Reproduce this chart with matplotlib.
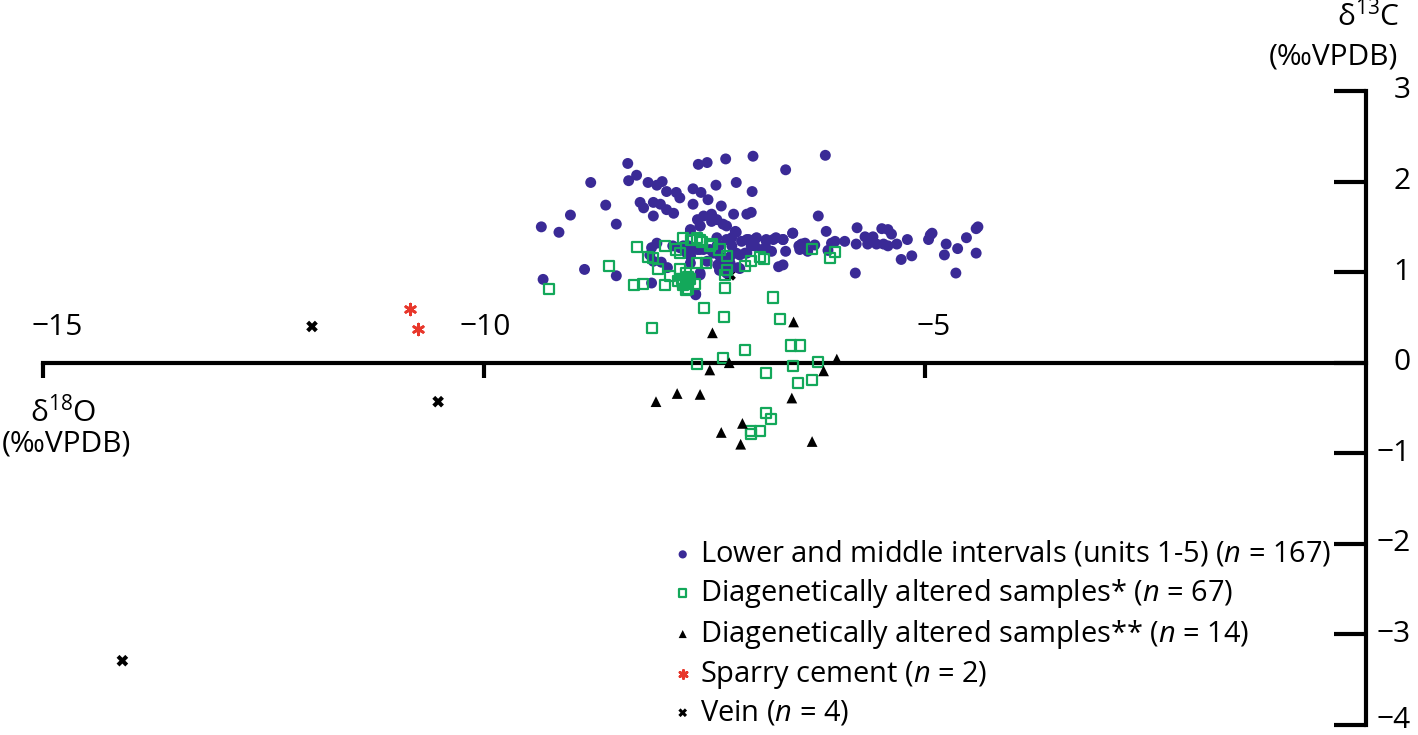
import matplotlib
matplotlib.use('Agg')
import matplotlib.pyplot as plt
import numpy as np

plt.rcParams['font.family'] = ['Open Sans', 'DejaVu Sans']
plt.rcParams['mathtext.fontset'] = 'custom'
plt.rcParams['mathtext.rm'] = 'Open Sans'
plt.rcParams['mathtext.it'] = 'Open Sans:italic'

# —— data (δ18O, δ13C) ——
lower_middle = [
    (-8.37, 2.20), (-8.27, 2.07), (-8.36, 2.01), (-8.79, 1.99), (-8.14, 1.99), (-8.04, 1.96),
    (-7.98, 2.00), (-7.93, 1.89), (-7.82, 1.88), (-7.78, 1.82), (-8.23, 1.77), (-8.19, 1.71),
    (-8.08, 1.77), (-8.00, 1.75), (-8.08, 1.62), (-7.93, 1.69), (-7.85, 1.65), (-8.62, 1.74),
    (-9.02, 1.63), (-8.50, 1.53), (-9.35, 1.50), (-9.15, 1.44), (-7.57, 2.19), (-7.47, 2.21),
    (-7.26, 2.25), (-7.63, 1.92), (-7.54, 1.88), (-7.37, 1.96), (-7.46, 1.80), (-7.63, 1.75),
    (-7.31, 1.73), (-7.17, 1.64), (-7.51, 1.62), (-7.42, 1.64), (-7.58, 1.58), (-7.66, 1.47),
    (-7.55, 1.51), (-7.36, 1.58), (-7.25, 1.51), (-7.14, 1.99), (-7.14, 1.44), (-7.36, 1.38),
    (-7.19, 1.38), (-6.95, 2.28), (-6.13, 2.29), (-6.58, 2.13), (-6.96, 1.89), (-7.02, 1.64),
    (-6.97, 1.66), (-6.21, 1.62), (-7.15, 1.45),
    (-8.10, 1.27), (-8.04, 1.32), (-8.12, 1.19), (-8.08, 1.12), (-7.99, 1.11), (-8.86, 1.03),
    (-8.50, 0.96), (-9.33, 0.92), (-8.10, 0.88), (-7.60, 0.76),
    (-7.78, 1.27), (-7.68, 1.29), (-7.58, 1.25), (-7.51, 1.25), (-7.44, 1.25), (-7.66, 1.18),
    (-7.66, 1.10), (-7.55, 0.97), (-7.33, 1.18), (-7.27, 1.10), (-7.35, 1.08), (-7.23, 1.05),
    (-7.33, 1.29), (-7.19, 1.29), (-7.14, 1.21),
    (-7.66, 1.45), (-7.55, 1.51), (-7.42, 1.56), (-7.29, 1.53), (-7.15, 1.44), (-7.02, 1.36),
    (-6.91, 1.38), (-6.80, 1.36), (-6.69, 1.38), (-6.61, 1.36), (-6.50, 1.43), (-6.42, 1.29),
    (-6.36, 1.32), (-6.58, 1.23), (-7.36, 1.29), (-7.25, 1.36), (-7.40, 1.21), (-7.29, 1.14),
    (-7.21, 1.10), (-7.12, 1.05), (-7.33, 1.02), (-7.25, 0.99), (-7.55, 0.99), (-7.60, 0.75),
    (-6.66, 1.06), (-7.04, 1.21), (-6.93, 1.29), (-6.82, 1.25), (-6.74, 1.23), (-7.74, 1.29),
    (-7.63, 1.27), (-7.55, 1.25), (-7.66, 1.18), (-7.70, 1.21),
    (-6.72, 1.36), (-6.80, 1.34), (-6.93, 1.36), (-7.00, 1.36), (-7.08, 1.34), (-6.85, 1.25),
    (-6.79, 1.25), (-6.43, 1.29), (-6.40, 1.31), (-6.42, 1.25), (-6.61, 1.08), (-6.97, 1.29),
    (-7.02, 1.21), (-7.10, 1.19), (-7.21, 1.17), (-7.21, 1.04), (-7.10, 1.04),
    (-5.77, 1.49), (-5.49, 1.48), (-5.42, 1.47), (-5.38, 1.42), (-5.68, 1.39), (-5.59, 1.39),
    (-4.92, 1.43), (-4.96, 1.36), (-5.20, 1.36), (-4.53, 1.38), (-4.42, 1.48), (-4.40, 1.50),
    (-6.02, 1.34), (-5.91, 1.34), (-5.78, 1.31), (-5.65, 1.31), (-5.47, 1.31), (-5.42, 1.29),
    (-5.32, 1.31), (-4.76, 1.31), (-4.63, 1.26), (-4.78, 1.19), (-4.42, 1.21), (-5.27, 1.14),
    (-5.15, 1.18), (-5.79, 0.99), (-4.65, 0.99), (-6.12, 1.45), (-6.50, 1.43), (-6.61, 1.36),
    (-6.06, 1.32), (-6.10, 1.24), (-5.55, 1.31), (-4.94, 1.41),
    (-6.33, 1.23), (-6.25, 1.30), (-7.47, 1.12), (-7.86, 1.29), (-7.92, 1.05),
]
altered_1 = [
    (-8.30, 0.86), (-8.20, 0.87), (-7.95, 0.86), (-7.80, 0.90), (-7.71, 0.87), (-7.69, 0.81),
    (-7.61, 0.87), (-7.27, 0.83), (-6.72, 0.72), (-7.51, 0.60), (-7.28, 0.51), (-6.64, 0.48),
    (-8.10, 0.38), (-6.52, 0.19), (-6.42, 0.19), (-7.04, 0.14), (-7.29, 0.05), (-7.59, -0.01),
    (-6.50, -0.04), (-6.21, 0.01), (-6.80, -0.11), (-6.28, -0.19), (-6.44, -0.22), (-6.80, -0.55),
    (-6.75, -0.62), (-6.97, -0.75), (-6.87, -0.75), (-6.97, -0.79),
    (-6.28, 1.26), (-6.08, 1.16), (-6.02, 1.22), (-6.97, 1.12), (-6.87, 1.17), (-6.83, 1.14),
    (-7.04, 1.07), (-7.25, 1.02),
    (-7.59, 1.38), (-7.42, 1.31), (-7.48, 1.10), (-7.71, 0.99), (-7.69, 0.90), (-7.78, 1.21),
    (-8.26, 1.28), (-8.58, 1.07), (-7.95, 1.29), (-8.14, 1.17), (-8.03, 1.04), (-7.89, 0.96),
    (-7.78, 1.03), (-7.76, 0.92), (-7.74, 0.86), (-7.69, 0.95), (-7.66, 0.92), (-7.58, 1.10),
    (-7.55, 1.36), (-7.65, 1.36), (-7.44, 1.29), (-7.33, 1.25), (-7.25, 1.18), (-7.27, 0.97),
    (-9.26, 0.81), (-8.08, 1.16),
    (-7.82, 1.25), (-7.74, 1.38), (-7.53, 1.33), (-7.74, 0.88), (-7.71, 0.80),
]
altered_2 = [
    (-7.41, 0.33), (-6.49, 0.45), (-7.22, 0.00), (-7.44, -0.08), (-6.00, 0.04), (-6.15, -0.09),
    (-7.81, -0.34), (-7.55, -0.35), (-8.05, -0.43), (-6.51, -0.39), (-7.07, -0.67), (-7.31, -0.77),
    (-7.09, -0.90), (-6.28, -0.87),
]
sparry = [(-10.84, 0.59), (-10.75, 0.37)]
vein = [(-11.95, 0.40), (-10.52, -0.43), (-14.10, -3.29), (-7.21, 0.97)]

labels = [
    'Lower and middle intervals (units 1-5) ($n$ = 167)',
    'Diagenetically altered samples* ($n$ = 67)',
    'Diagenetically altered samples** ($n$ = 14)',
    'Sparry cement ($n$ = 2)',
    'Vein ($n$ = 4)',
]
x_ticks = [-15, -10, -5]
y_ticks = [3, 2, 1, 0, -1, -2, -3, -4]

W, H = 1418, 735
fig = plt.figure(figsize=(W / 100, H / 100), dpi=100)
ax = fig.add_axes([43 / W, 10 / H, (1366 - 43) / W, (725 - 91) / H])

blue = '#3a2a96'
green = '#13a85a'
red = '#e8372b'

lm = np.array(lower_middle)
a1 = np.array(altered_1)
a2 = np.array(altered_2)
sp = np.array(sparry)
vn = np.array(vein)

h1 = ax.scatter(lm[:, 0], lm[:, 1], s=62, color=blue, edgecolors='none', zorder=3)
h2 = ax.scatter(a1[:, 0], a1[:, 1], s=52, marker='s', facecolors='none',
                edgecolors=green, linewidths=1.6, zorder=4)
h3 = ax.scatter(a2[:, 0], a2[:, 1], s=60, marker='^', color='black', edgecolors='none', zorder=4)
h4 = ax.scatter(sp[:, 0], sp[:, 1], s=60, marker=(6, 2, 0), color=red, linewidths=2.0, zorder=4)
h5 = ax.scatter(vn[:, 0], vn[:, 1], s=70, marker='X', color='black', edgecolors='none', zorder=2)

ax.set_xlim(-15, 0)
ax.set_ylim(-4, 3)

# 坐标轴：x 轴穿过 0，y 轴在右侧
for s in ['top', 'left']:
    ax.spines[s].set_visible(False)
ax.spines['bottom'].set_position(('data', 0))
ax.spines['bottom'].set_linewidth(3)
ax.spines['right'].set_linewidth(3)

ax.set_xticks(x_ticks)
ax.set_xticklabels([])
ax.tick_params(axis='x', direction='out', length=11, width=3, bottom=True)
ax.yaxis.tick_right()
ax.set_yticks(y_ticks)
ax.set_yticklabels([])
ax.tick_params(axis='y', direction='in', length=23, width=3, right=True, left=False)

fs = 21.5
x_offsets = {-15: 10, -10: 1, -5: 6}
for xt in x_ticks:
    ax.annotate(f'\u2212{abs(xt)}', (xt, 0), xytext=(x_offsets[xt], 15), textcoords='offset points',
                ha='center', va='bottom', fontsize=fs)
for yt in y_ticks:
    lab = f'\u2212{abs(yt)}' if yt < 0 else f'{yt}'
    dy = 3 if yt == -4 else 0
    ax.annotate(lab, (0, yt), xytext=(32, dy), textcoords='offset points',
                ha='right', va='center', fontsize=fs, annotation_clip=False)

# 轴标题
fig.text(1368 / W, 1 - 16 / H, 'δ$^{13}$C', ha='center', va='center', fontsize=fs)
fig.text(1333 / W, 1 - 57 / H, '(‰VPDB)', ha='center', va='center', fontsize=fs)
fig.text(63 / W, 1 - 412 / H, 'δ$^{18}$O', ha='center', va='center', fontsize=fs)
fig.text(66 / W, 1 - 444 / H, '(‰VPDB)', ha='center', va='center', fontsize=fs)

leg = ax.legend([h1, h2, h3, h4, h5], labels, loc='upper left',
                bbox_to_anchor=(674 / W, 1 - 539 / H), bbox_transform=fig.transFigure,
                frameon=False, fontsize=20.9, markerscale=0.75, handlelength=0.6,
                handletextpad=0.3, labelspacing=0.27, borderpad=0, borderaxespad=0)

fig.savefig('out.png', dpi=100)
